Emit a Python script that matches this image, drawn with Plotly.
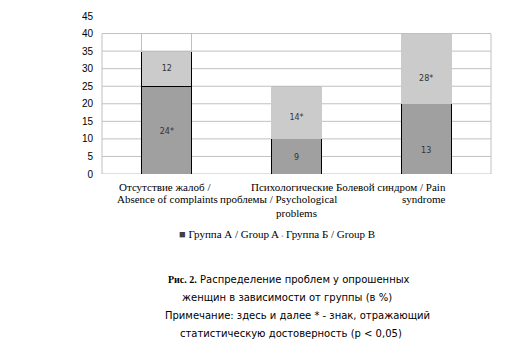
import plotly.graph_objects as go

# ---- data ----
categories = [
    "Отсутствие жалоб / Absence of complaints",
    "Психологические проблемы / Psychological problems",
    "Болевой синдром / Pain syndrome",
]
# label lines as they are wrapped under each category
category_lines = [
    ["Отсутствие жалоб /", "Absence of complaints"],
    ["Психологические", "проблемы / Psychological", "problems"],
    ["Болевой синдром / Pain", "syndrome"],
]
group_a_name = "Группа А / Group A"
group_b_name = "Группа Б / Group B"
# values printed on the bars
group_a_values = [24, 9, 13]
group_b_values = [12, 14, 28]
group_a_signif = [True, False, False]
group_b_signif = [False, True, True]
# segment heights as drawn in the picture
group_a_bar = [25, 10, 20]
group_b_bar = [10, 15, 20]
frame_top = [5, 0, 0]
y_ticks = [0, 5, 10, 15, 20, 25, 30, 35, 40, 45]
grid_ticks = [0, 5, 10, 15, 20, 25, 30, 35, 40]

caption_lines = [
    "<b><span style='font-family:Liberation Serif'>Рис. 2.</span></b> Распределение проблем у опрошенных",
    "женщин в зависимости от группы (в %)",
    "Примечание: здесь и далее * - знак, отражающий",
    "статистическую достоверность (p < 0,05)",
]

DARK = "#a0a0a0"
LIGHT = "#cbcbcb"
GRID = "#c0c0c0"
SERIF = "Liberation Serif, Times New Roman, serif"
SANS = "DejaVu Sans, Verdana, sans-serif"

fig = go.Figure()
fig.add_trace(go.Bar(
    x=categories, y=group_a_bar, name=group_a_name,
    marker=dict(color=DARK, line=dict(color="#000000", width=1)),
    width=0.385, showlegend=False,
))
fig.add_trace(go.Bar(
    x=categories, y=group_b_bar, name=group_b_name,
    marker=dict(color=LIGHT,
                line=dict(color=["#000000", LIGHT, LIGHT], width=1)),
    width=0.385, showlegend=False,
))
fig.add_trace(go.Bar(
    x=categories, y=frame_top, name="",
    marker=dict(color="rgba(255,255,255,0)", line=dict(color=GRID, width=1)),
    width=0.385, showlegend=False, hoverinfo="skip",
))

# value labels at the centre of each (true) segment
def fmt(v, s):
    return f"{v}*" if s else f"{v}"

lab_x, lab_y, lab_t = [], [], []
for c, a, b, sa, sb in zip(categories, group_a_values, group_b_values, group_a_signif, group_b_signif):
    lab_x += [c, c]
    lab_y += [a / 2, a + b / 2]
    lab_t += [fmt(a, sa), fmt(b, sb)]
fig.add_trace(go.Scatter(
    x=lab_x, y=lab_y, text=lab_t, mode="text",
    textfont=dict(family=SANS, size=8, color="#333333"),
    showlegend=False, hoverinfo="skip",
))

# grid (only up to 40) drawn below bars
shapes = []
for t in grid_ticks:
    shapes.append(dict(type="line", xref="paper", yref="y", x0=0, x1=1, y0=t, y1=t,
                       line=dict(color=GRID, width=1), layer="below"))
for xp in (0, 1):
    shapes.append(dict(type="line", xref="paper", yref="y", x0=xp, x1=xp, y0=0, y1=grid_ticks[-1],
                       line=dict(color=GRID, width=1), layer="below"))

PLOT_TOP, PLOT_BOTTOM, PLOT_L, PLOT_R = 10, 174, 102, 491
def py(p):
    return (PLOT_BOTTOM - p) / (PLOT_BOTTOM - PLOT_TOP)
def px(p):
    return (p - PLOT_L) / (PLOT_R - PLOT_L)

annotations = []
line_layout = [
    [(165, 187), (167, 200)],
    [(292, 187), (278, 200), (296, 214)],
    [(391, 187), (424, 200)],
]
for lines, pos in zip(category_lines, line_layout):
    for text, (cx, cy) in zip(lines, pos):
        annotations.append(dict(text=text, xref="paper", yref="paper", x=px(cx), y=py(cy),
                                xanchor="center", yanchor="middle", showarrow=False,
                                font=dict(family=SERIF, size=11, color="#000000")))

legend_text = (f"<span style='color:#404040'>■</span> {group_a_name} "
               f"<span style='color:#b0b0b0;font-size:6px'>▪</span> {group_b_name}")
annotations.append(dict(text=legend_text, xref="paper", yref="paper", x=px(277), y=py(236),
                        xanchor="center", yanchor="middle", showarrow=False,
                        font=dict(family=SERIF, size=11, color="#000000")))

cap_pos = [(289, 283), (287, 302), (297, 321), (291, 340)]
for text, (cx, cy) in zip(caption_lines, cap_pos):
    annotations.append(dict(text=text, xref="paper", yref="paper", x=px(cx), y=py(cy),
                            xanchor="center", yanchor="middle", showarrow=False,
                            font=dict(family=SANS, size=10, color="#000000")))

fig.update_layout(
    width=512, height=354,
    margin=dict(l=PLOT_L, r=512 - PLOT_R, t=PLOT_TOP, b=354 - PLOT_BOTTOM),
    paper_bgcolor="white", plot_bgcolor="white",
    barmode="stack", bargap=0.6,
    showlegend=False,
    shapes=shapes, annotations=annotations,
    xaxis=dict(showticklabels=False, showgrid=False, zeroline=False, showline=False, ticks=""),
    yaxis=dict(range=[0, 45], tickvals=y_ticks, showgrid=False, zeroline=False, showline=False,
               ticks="", ticklabelstandoff=8,
               tickfont=dict(family="Liberation Sans, Arial, sans-serif", size=10, color="#000000")),
)

fig.write_html("out.html")
